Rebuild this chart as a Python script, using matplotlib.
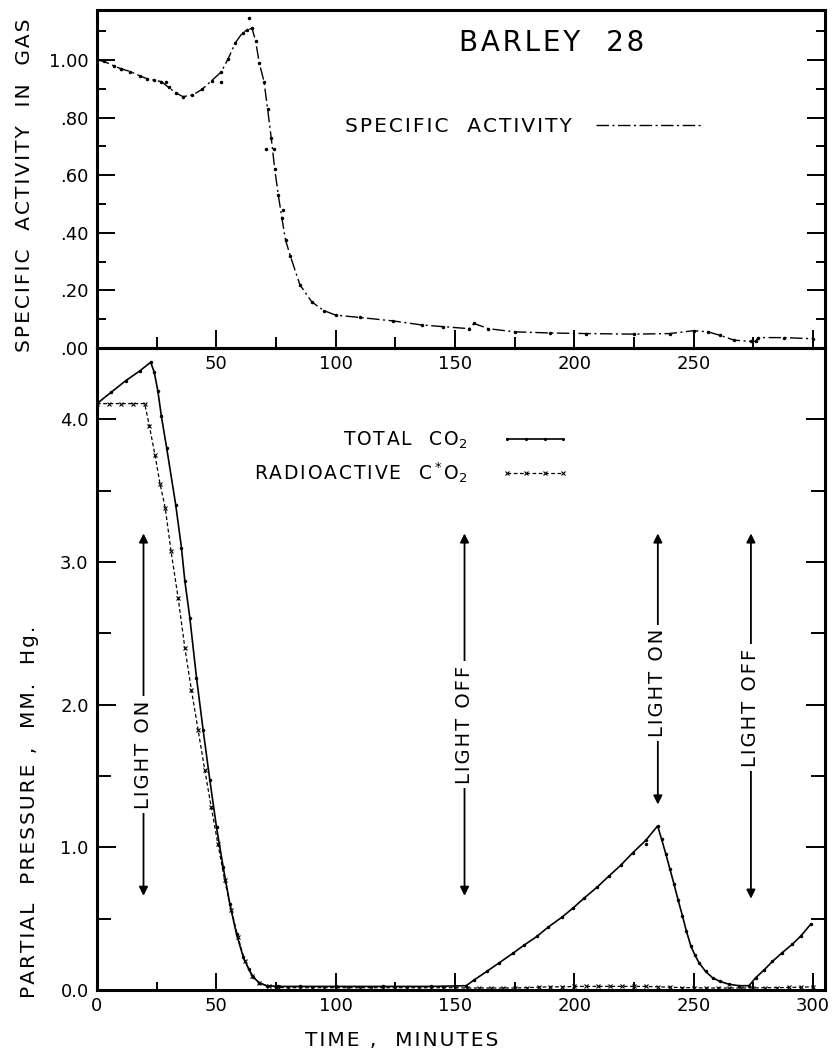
import matplotlib
matplotlib.use('Agg')
import matplotlib.pyplot as plt
from matplotlib.lines import Line2D
from matplotlib.ticker import FixedLocator, MultipleLocator

plt.rcParams['font.family'] = ['DejaVu Sans']

# specific activity in gas (upper panel)
sa_t = [0, 3, 7, 10, 14, 18, 21, 24, 27, 30, 33, 36, 40, 44, 48, 52, 55, 58, 61, 63, 65,
        66.5, 68, 70, 71.5, 73, 74.5, 76, 77.5, 79, 81, 85, 90, 95, 100, 110, 124, 136,
        145, 156, 158, 164, 175, 190, 205, 225, 240, 250, 256, 261, 267, 274, 276, 277,
        288, 300]
sa_v = [1.00, 0.995, 0.98, 0.97, 0.96, 0.945, 0.935, 0.93, 0.925, 0.905, 0.886, 0.873,
        0.878, 0.898, 0.928, 0.958, 1.005, 1.06, 1.095, 1.105, 1.11, 1.065, 0.99, 0.925,
        0.83, 0.73, 0.62, 0.53, 0.45, 0.375, 0.32, 0.22, 0.16, 0.13, 0.114, 0.106, 0.094,
        0.08, 0.074, 0.067, 0.085, 0.067, 0.056, 0.052, 0.05, 0.048, 0.05, 0.06, 0.056,
        0.044, 0.027, 0.023, 0.023, 0.036, 0.036, 0.032]
sa_dot_t = [10, 29, 51.8, 63.8, 70.8, 74, 78]
sa_dot_v = [0.97, 0.925, 0.925, 1.145, 0.69, 0.69, 0.48]

# total CO2 (lower panel)
co2_t = [0, 6, 12, 18, 22.5, 24, 25.5, 27, 29.2, 33, 35.4, 36.8, 38.9, 41.7, 44.5, 47.3,
         50.1, 52.9, 55.7, 58.5, 61.3, 63.5, 65.5, 68, 71.1, 76, 85, 100, 120, 140, 154.7,
         158, 163.3, 168.5, 174.5, 179, 184.3, 189, 194.8, 199.5, 204.2, 209.5, 214.6,
         219.5, 224.4, 230, 234.9, 236.6, 238.4, 240.1, 241.8, 243.5, 245.3, 247, 248.8,
         250.5, 252.3, 255, 257.9, 261, 264.9, 269, 273.2, 276, 279.5, 283, 287, 291.3,
         295, 299]
co2_v = [4.11, 4.19, 4.27, 4.34, 4.40, 4.33, 4.20, 4.02, 3.80, 3.40, 3.10, 2.87, 2.61,
         2.19, 1.82, 1.47, 1.14, 0.86, 0.60, 0.39, 0.23, 0.15, 0.09, 0.05, 0.03, 0.025,
         0.025, 0.025, 0.025, 0.025, 0.03, 0.07, 0.13, 0.19, 0.26, 0.315, 0.375, 0.44,
         0.51, 0.575, 0.645, 0.72, 0.80, 0.875, 0.96, 1.05, 1.15, 1.055, 0.95, 0.845,
         0.74, 0.63, 0.52, 0.41, 0.31, 0.245, 0.19, 0.13, 0.086, 0.06, 0.04, 0.03, 0.03,
         0.086, 0.14, 0.20, 0.26, 0.32, 0.38, 0.46]
co2_dot_t = [230]
co2_dot_v = [1.02]

# radioactive C*O2 (lower panel)
rad_t = [0, 5, 10, 15, 20, 22, 24.3, 26.4, 28.6, 31, 34, 36.8, 39.6, 42.4, 45.2, 47.9,
         50.7, 53.5, 56.3, 59.1, 62, 65, 68, 72, 76, 80, 85, 90, 95, 100, 105, 110, 115,
         120, 125, 130, 135, 140, 145, 150, 155, 160, 165, 170, 175, 180, 185, 190, 195,
         200, 205, 210, 215, 220, 225, 230, 235, 240, 245, 250, 255, 260, 265, 270, 275,
         280, 285, 290, 295, 300]
rad_v = [4.11, 4.11, 4.11, 4.11, 4.11, 3.95, 3.75, 3.55, 3.38, 3.08, 2.75, 2.40, 2.10,
         1.82, 1.54, 1.28, 1.02, 0.77, 0.56, 0.37, 0.20, 0.10, 0.05, 0.025, 0.018, 0.016,
         0.016, 0.016, 0.016, 0.016, 0.016, 0.016, 0.016, 0.016, 0.016, 0.016, 0.016,
         0.016, 0.016, 0.016, 0.014, 0.014, 0.014, 0.014, 0.014, 0.016, 0.02, 0.022,
         0.022, 0.025, 0.025, 0.025, 0.025, 0.025, 0.025, 0.025, 0.022, 0.02, 0.016,
         0.016, 0.014, 0.014, 0.014, 0.014, 0.014, 0.016, 0.016, 0.018, 0.02, 0.022]

light_t = [19.5, 154, 235, 274]
light_txt = ['LIGHT ON', 'LIGHT OFF', 'LIGHT ON', 'LIGHT OFF']

sa_yticks = [0, 0.2, 0.4, 0.6, 0.8, 1.0]
sa_ylabels = ['.00', '.20', '.40', '.60', '.80', '1.00']
t_ticks_top = [50, 100, 150, 200, 250, 300]
t_labels_top = ['50', '100', '150', '200', '250', '']
p_ticks = [0, 1, 2, 3, 4]
p_labels = ['0.0', '1.0', '2.0', '3.0', '4.0']

sa_ls = (0, (9, 2.5, 1.5, 2.5))


def spaced(s, gap='\u200a'):
    # old drafting lettering is wide, so pad letters with hair spaces
    return gap.join(s)


fig = plt.figure(figsize=(8.33, 10.57), dpi=100)
ax_b = fig.add_axes([0.1164, 0.0634, 0.8739, 0.6074])
ax_t = fig.add_axes([0.1164, 0.6708, 0.8739, 0.3198])
ax_t.set_facecolor('none')

for ax in (ax_t, ax_b):
    for s in ax.spines.values():
        s.set_linewidth(2.2)
    ax.set_xlim(0, 305)

# upper panel
ax_t.plot(sa_t, sa_v, color='black', lw=1.0, ls=sa_ls, marker='.', ms=3)
ax_t.plot(sa_dot_t, sa_dot_v, ls='none', marker='.', ms=3, color='black')
ax_t.set_ylim(0, 1.174)
ax_t.yaxis.set_major_locator(FixedLocator(sa_yticks))
ax_t.set_yticklabels(sa_ylabels)
ax_t.yaxis.set_minor_locator(MultipleLocator(0.1))
ax_t.xaxis.set_major_locator(FixedLocator(t_ticks_top))
ax_t.set_xticklabels(t_labels_top)
ax_t.xaxis.set_minor_locator(MultipleLocator(25))
ax_t.tick_params(axis='both', which='both', direction='in', width=1.4, labelsize=13,
                 left=True, right=True, bottom=True, top=False)
ax_t.tick_params(axis='y', which='major', length=13, pad=6)
ax_t.tick_params(axis='y', which='minor', length=6.5)
ax_t.tick_params(axis='x', which='major', length=13, pad=5)
ax_t.tick_params(axis='x', which='minor', length=8)

h_sa = Line2D([], [], color='black', lw=1.0, ls=sa_ls)
ax_t.legend([h_sa], [spaced('SPECIFIC  ACTIVITY')], loc='center right',
            bbox_to_anchor=(703 / 833, 1 - 127 / 1057), bbox_transform=fig.transFigure,
            frameon=False, markerfirst=False, handlelength=5.3, handletextpad=1.2,
            fontsize=14.5, borderpad=0, borderaxespad=0)
fig.text(552 / 833, 1 - 43 / 1057, spaced('BARLEY  28'), fontsize=20, ha='center',
         va='center')

# lower panel
ax_b.plot(co2_t, co2_v, color='black', lw=1.2, marker='.', ms=3)
ax_b.plot(co2_dot_t, co2_dot_v, ls='none', marker='.', ms=3, color='black')
ax_b.plot(rad_t, rad_v, color='black', lw=0.9, ls=(0, (3, 2)), marker='x', ms=3,
          mew=0.8)
ax_b.set_ylim(0, 4.5)
ax_b.yaxis.set_major_locator(FixedLocator(p_ticks))
ax_b.set_yticklabels(p_labels)
ax_b.yaxis.set_minor_locator(MultipleLocator(0.5))
ax_b.xaxis.set_major_locator(MultipleLocator(50))
ax_b.xaxis.set_minor_locator(MultipleLocator(25))
ax_b.tick_params(axis='both', which='both', direction='in', width=1.4, labelsize=13,
                 left=True, right=True, bottom=True, top=False)
ax_b.tick_params(axis='y', which='major', length=14, pad=6)
ax_b.tick_params(axis='y', which='minor', length=10)
ax_b.tick_params(axis='x', which='major', length=12, pad=5)
ax_b.tick_params(axis='x', which='minor', length=6)

h_co2 = Line2D([], [], color='black', lw=1.2, marker='.', ms=2.5)
h_rad = Line2D([], [], color='black', lw=0.9, ls=(0, (3, 2)), marker='x', ms=3, mew=0.8)
lab_co2 = spaced('TOTAL  CO') + '$_2$'
lab_rad = spaced('RADIOACTIVE  C') + '$^*$' + 'O$_2$'
ax_b.legend([h_co2, h_rad], [lab_co2, lab_rad],
            loc='center right', bbox_to_anchor=(569 / 833, 1 - 457 / 1057),
            bbox_transform=fig.transFigure, frameon=False, markerfirst=False,
            handlelength=3.6, handletextpad=1.8, fontsize=13.5, borderpad=0,
            borderaxespad=0, labelspacing=0.5, numpoints=4)

arrow_top = [3.2, 3.2, 3.2, 3.2]
arrow_bot = [0.66, 0.66, 1.30, 0.64]
text_y = [1.65, 1.86, 2.15, 1.98]
for x, txt, y0, y1, yt in zip(light_t, light_txt, arrow_bot, arrow_top, text_y):
    ax_b.annotate('', xy=(x, y1), xytext=(x, y0),
                  arrowprops=dict(arrowstyle='<|-|>', lw=1.3, color='black',
                                  mutation_scale=13, shrinkA=0, shrinkB=0))
    ax_b.text(x, yt, spaced(txt), rotation=90, ha='center', va='center', fontsize=14,
              bbox=dict(fc='white', ec='none', pad=3))

fig.text(25 / 833, 1 - 185 / 1057, spaced('SPECIFIC  ACTIVITY  IN  GAS'), rotation=90,
         ha='center', va='center', fontsize=14.5)
fig.text(30 / 833, 1 - 812 / 1057, spaced('PARTIAL  PRESSURE ,  MM.  Hg.'), rotation=90,
         ha='center', va='center', fontsize=14.5)
fig.text(402 / 833, 1 - 1040 / 1057, spaced('TIME ,  MINUTES'), ha='center',
         va='center', fontsize=14.5)

fig.savefig('out.png', dpi=100)
